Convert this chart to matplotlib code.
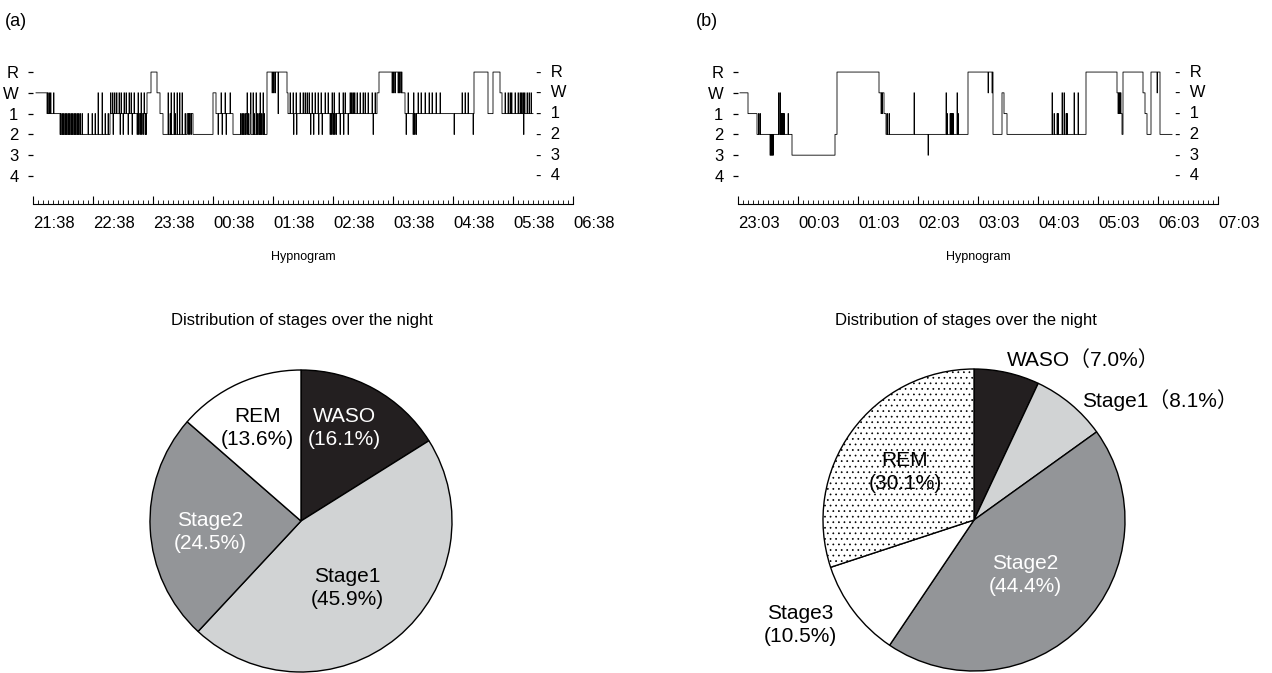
import matplotlib.pyplot as plt
import numpy as np

plt.rcParams['font.family'] = ['Liberation Sans', 'Noto Sans CJK JP']
plt.rcParams['hatch.linewidth'] = 0.5

# sleep stage rows of the hypnograms, bottom to top
stage_rows = ['4', '3', '2', '1', 'W', 'R']

# night (a): minutes after 21:38, (start of run, stage) plus single-epoch excursions
a_hours = ['21:38', '22:38', '23:38', '00:38', '01:38', '02:38',
           '03:38', '04:38', '05:38', '06:38']
a_steps = [(3, 'W'), (14, '1'), (27, '2'), (77, '1'), (114, 'W'), (118, 'R'),
           (124, 'W'), (127, '1'), (130, '2'), (154, '1'), (160, '2'), (180, 'W'),
           (183, '1'), (200, '2'), (234, 'R'), (254, 'W'), (255, '1'), (344, 'W'),
           (346, 'R'), (369, 'W'), (372, '1'), (441, 'R'), (455, '1'), (460, 'R'),
           (467, 'W'), (469, '1')]
a_blips = {
    'W': [14.5, 16, 17.5, 20.5, 65, 69, 77.5, 79.5, 81.5, 83.5, 86, 88, 91, 93,
          96, 98, 101, 105, 108, 111, 135, 138, 141, 144, 146.5, 149, 188, 192,
          197, 214, 217.5, 220, 223, 227, 230, 239, 240.5, 242, 257, 260, 263,
          267, 270, 272, 274, 276, 279, 282, 285, 288, 292, 295, 299, 301, 303,
          306, 310, 312, 317, 318.5, 320, 321.5, 324, 327, 330, 332, 335, 339,
          342, 359, 360.5, 362, 365, 366.5, 368, 375, 380.5, 385, 388, 392, 396,
          399, 403, 407, 429, 432, 435, 472, 475, 477, 478.5, 482, 485, 487,
          488.5, 490, 491.5, 494, 496, 498],
    '1': [27.5, 29, 30.5, 32, 33.5, 35, 36.5, 38, 39.5, 41, 42.5, 44, 45.5, 47,
          49, 55, 59, 62, 72, 75, 137, 142, 152, 207.5, 209, 210.5, 212, 213.5,
          215, 217, 221, 224.5, 226, 228.5, 231, 245],
    '2': [80, 87, 90, 95, 99, 104, 105.5, 107, 108.5, 110, 112, 113, 155, 156.5,
          158, 185, 189, 193, 260.5, 263.5, 277.5, 280.5, 285.5, 289, 297, 298.5,
          300, 301.5, 303, 307, 310.5, 315, 340, 373, 380, 381.5, 383, 421, 440,
          490.5],
}
a_end = 500

# night (b): minutes after 23:03
b_hours = ['23:03', '00:03', '01:03', '02:03', '03:03', '04:03',
           '05:03', '06:03', '07:03']
b_steps = [(2, 'W'), (10, '1'), (19, '2'), (54, '3'), (97, '2'), (99, 'R'),
           (141, 'W'), (146, '1'), (148, '2'), (230, 'R'), (255, '2'), (264, 'W'),
           (266, '1'), (269, '2'), (348, 'R'), (379, 'W'), (383, '1'), (384, '2'),
           (385, 'R'), (405, 'W'), (407, '1'), (409, '2'), (413, 'R'), (422, '2')]
b_blips = {
    'W': [40.5, 42, 176, 208, 219, 250, 254, 314, 324, 326, 336, 340, 419],
    '1': [20.5, 22, 43, 44, 45, 46, 50, 143, 144, 149, 151, 209, 212, 213, 214,
          215, 220, 316, 319, 320, 328, 329, 380, 381, 382],
    '3': [32, 33, 34, 35, 190],
}
b_end = 434

# stage shares over each night (%)
a_names = ['WASO', 'Stage1', 'Stage2', 'REM']
a_share = [16.1, 45.9, 24.5, 13.6]
b_names = ['WASO', 'Stage1', 'Stage2', 'Stage3', 'REM']
b_share = [7.0, 8.1, 44.4, 10.5, 30.1]

shade = {'WASO': '#231f20', 'Stage1': '#d1d3d4', 'Stage2': '#939598',
         'Stage3': 'white', 'REM': 'white'}

W, H = 1272, 673
fig = plt.figure(figsize=(W / 100, H / 100), dpi=100)


def px_rect(x0, y0, x1, y1):
    return [x0 / W, 1 - y1 / H, (x1 - x0) / W, (y1 - y0) / H]


def stage_track(steps, blips, end):
    t = np.arange(steps[0][0], end, 0.5)
    starts = np.array([s[0] for s in steps])
    lev = np.array([stage_rows.index(s[1]) for s in steps])
    y = lev[np.searchsorted(starts, t, side='right') - 1].astype(float)
    for st, mins in blips.items():
        for m in mins:
            i = int(round((m - t[0]) / 0.5))
            if 0 <= i < len(y):
                y[i] = stage_rows.index(st)
    return np.append(t, end), np.append(y, y[-1])


def hypnogram(rect, hours, steps, blips, end):
    ax = fig.add_axes(rect)
    t, y = stage_track(steps, blips, end)
    ax.step(t, y, where='post', color='black', lw=0.6)
    span = 60 * (len(hours) - 1)
    ax.set_xlim(0, span)
    ax.set_ylim(-1.35, 5.58)
    ax.set_xticks(np.arange(0, span + 1, 60), labels=hours, ha='left')
    ax.set_xticks(np.arange(0, span + 1, 5), minor=True)
    ax.set_yticks(range(len(stage_rows)), labels=stage_rows)
    for sp in ['top', 'left', 'right']:
        ax.spines[sp].set_visible(False)
    ax.spines['bottom'].set_linewidth(0.8)
    ax.tick_params(axis='x', which='major', direction='in', length=6, width=0.8,
                   labelsize=12, pad=9)
    ax.tick_params(axis='x', which='minor', direction='in', length=3, width=0.6)
    ax.tick_params(axis='y', length=3.5, width=0.9, pad=7, labelsize=12)
    for k, lab in enumerate(stage_rows):
        ax.annotate('-  ' + lab, xy=(end, k), xytext=(2, 0),
                    textcoords='offset points', va='center', fontsize=12)
    ax.set_xlabel('Hypnogram', fontsize=9, labelpad=14)
    return ax


def stage_pie(cx, cy, names, share, spots):
    r = 151
    ax = fig.add_axes(px_rect(cx - 1.2 * r, cy - 1.2 * r, cx + 1.2 * r, cy + 1.2 * r))
    wedges, _ = ax.pie(share, colors=[shade[n] for n in names], startangle=90,
                       counterclock=False,
                       wedgeprops=dict(edgecolor='black', linewidth=1.0))
    ax.set_xlim(-1.2, 1.2)
    ax.set_ylim(-1.2, 1.2)
    ax.set_aspect('equal')
    if 'Stage3' in names:
        wedges[names.index('REM')].set_hatch('...')
    for n, v in zip(names, share):
        x, y, ha, one_line = spots[n]
        txt = f'{n}（{v:.1f}%）' if one_line else f'{n}\n({v:.1f}%)'
        dark = shade[n] in ('#231f20', '#939598') and not one_line
        ax.text(x, y, txt, ha=ha, va='center', fontsize=15,
                color='white' if dark else 'black', linespacing=1.25)
    return ax


hypnogram(px_rect(33, 60, 573, 204), a_hours, a_steps, a_blips, a_end)
hypnogram(px_rect(738, 60, 1218, 204), b_hours, b_steps, b_blips, b_end)

fig.text(5 / W, 1 - 22 / H, '(a)', fontsize=13, va='center')
fig.text(696 / W, 1 - 22 / H, '(b)', fontsize=13, va='center')

fig.text(302 / W, 1 - 320 / H, 'Distribution of stages over the night',
         ha='center', va='center', fontsize=12)
fig.text(966 / W, 1 - 320 / H, 'Distribution of stages over the night',
         ha='center', va='center', fontsize=12)

stage_pie(301, 521, a_names, a_share, {
    'REM': (-0.29, 0.616, 'center', False),
    'WASO': (0.29, 0.616, 'center', False),
    'Stage2': (-0.603, -0.073, 'center', False),
    'Stage1': (0.305, -0.444, 'center', False),
})
stage_pie(974, 520, b_names, b_share, {
    'WASO': (0.219, 1.06, 'left', True),
    'Stage1': (0.715, 0.795, 'left', True),
    'REM': (-0.457, 0.318, 'center', False),
    'Stage2': (0.338, -0.364, 'center', False),
    'Stage3': (-1.15, -0.695, 'center', False),
})

fig.savefig('out.png', dpi=100)
